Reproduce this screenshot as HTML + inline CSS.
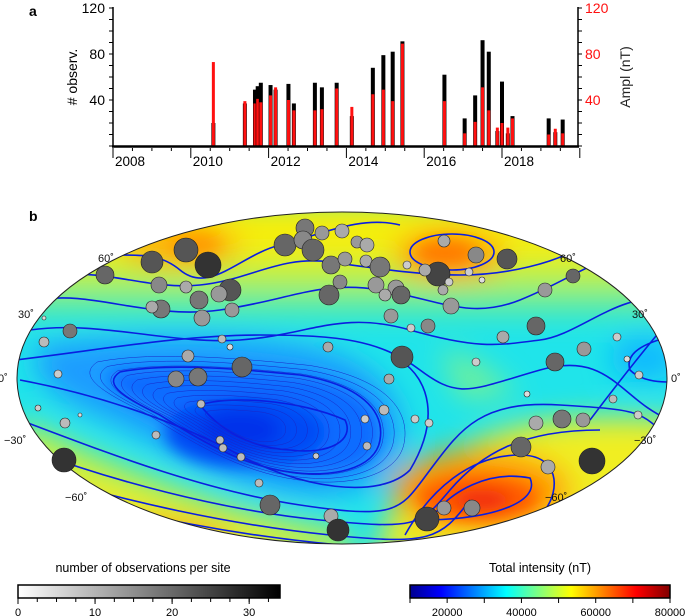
<!DOCTYPE html>
<html><head><meta charset="utf-8"><style>
body{margin:0;background:#fff;width:685px;height:616px;overflow:hidden;font-family:"Liberation Sans",sans-serif}
svg{position:absolute;left:0;top:0}
</style></head><body>
<svg width="685" height="616" viewBox="0 0 685 616">
<defs>
<filter id="bl" x="-50%" y="-50%" width="200%" height="200%"><feGaussianBlur stdDeviation="14"/></filter>
<filter id="bl2" x="-50%" y="-50%" width="200%" height="200%"><feGaussianBlur stdDeviation="8"/></filter>
<clipPath id="ell"><ellipse cx="342" cy="378" rx="325" ry="166"/></clipPath>
<linearGradient id="gcb" x1="0" x2="1"><stop offset="0" stop-color="#fff"/><stop offset="1" stop-color="#000"/></linearGradient>
<linearGradient id="jet" x1="0" x2="1"><stop offset="0" stop-color="#00008f"/><stop offset="0.12" stop-color="#0000ff"/><stop offset="0.37" stop-color="#00ffff"/><stop offset="0.62" stop-color="#ffff00"/><stop offset="0.87" stop-color="#ff0000"/><stop offset="1" stop-color="#800000"/></linearGradient>
</defs>
<text x="29" y="16" font-size="14" font-weight="bold">a</text>
<text x="29" y="221" font-size="14" font-weight="bold">b</text>
<g id="chart"></g>
<g>
<g clip-path="url(#ell)">
<rect x="0" y="200" width="685" height="360" fill="#20e4ea"/>
<g filter="url(#bl)">
<rect x="0" y="200" width="685" height="62" fill="#f4ee10"/>
<rect x="0" y="262" width="685" height="28" fill="#b8f040"/>
<rect x="0" y="290" width="685" height="25" fill="#60eca0"/>
<path d="M20,420 C120,470 250,520 340,530 L360,560 L0,560 Z" fill="#c8f040"/>
<path d="M20,460 C120,500 230,530 330,545 L0,560 Z" fill="#f6e820"/>
<path d="M380,540 C400,480 460,430 560,420 C620,415 660,420 685,420 L685,560 L380,560 Z" fill="#f0ee20"/>
<path d="M440,350 C470,350 500,380 520,395 L460,400 Z" fill="#70f09a"/>
<ellipse cx="180" cy="245" rx="60" ry="22" fill="#ffb000"/>
<ellipse cx="450" cy="255" rx="55" ry="25" fill="#ffa000"/>
<ellipse cx="480" cy="490" rx="90" ry="40" fill="#ff9800"/>
<ellipse cx="150" cy="540" rx="80" ry="18" fill="#ffa000"/>
<ellipse cx="645" cy="358" rx="35" ry="22" fill="#10b8ff"/>
<path d="M40,345 C120,335 210,330 300,345 C360,355 405,385 402,440 C400,485 340,500 290,492 C230,485 180,455 120,425 C70,405 20,380 40,345 Z" fill="#1d9cff"/>
</g>
<g filter="url(#bl2)">
<path d="M110,372 C170,362 250,370 300,375 C360,385 385,410 380,440 C375,470 330,478 290,472 C240,465 200,440 160,415 C130,400 100,385 110,372 Z" fill="#0a6cff"/>
<ellipse cx="245" cy="432" rx="80" ry="35" fill="#0048f4"/>
<ellipse cx="240" cy="430" rx="40" ry="20" fill="#0030ea"/>
<ellipse cx="478" cy="498" rx="60" ry="22" fill="#ff5a00"/>
<ellipse cx="482" cy="500" rx="28" ry="10" fill="#f02808"/>
<ellipse cx="445" cy="253" rx="30" ry="12" fill="#ff7a00"/>
<ellipse cx="195" cy="245" rx="25" ry="10" fill="#ff9800"/>
</g>
<g fill="none" stroke="#0a1ee0" stroke-width="1.6">
<path d="M90,250 C120,262 150,245 180,270 S240,255 280,245 S360,215 400,225"/>
<path d="M60,275 C110,270 150,290 200,285 S280,255 330,262 S420,275 460,275 S560,265 590,240"/>
<path d="M40,300 C90,290 150,320 220,310 S320,280 380,290 S470,320 520,300 S590,260 640,250"/>
<path d="M30,330 C100,320 170,345 240,340 S340,310 410,330 S500,345 540,340 S620,290 670,300"/>
<path d="M15,360 C100,350 180,335 260,335 S380,340 420,370 S470,390 540,370 S620,400 670,420"/>
<path d="M20,380 C100,395 170,420 230,450 C300,490 380,500 410,470 C440,420 430,380 400,360"/>
<path d="M20,420 C100,450 200,490 300,505 S400,510 430,470 S480,400 560,405 S640,410 670,440"/>
<path d="M30,450 C110,480 220,510 320,520 S420,525 450,490 S520,430 600,430"/>
<path d="M40,475 C120,500 230,525 330,535 S440,540 470,500"/>
<path d="M60,495 C140,515 230,535 340,545"/>
<ellipse cx="452" cy="252" rx="42" ry="18"/>
<path d="M430,520 C450,490 490,470 530,478 C540,500 500,518 430,520 Z"/>
<path d="M405,535 C430,490 470,455 520,455 C560,455 560,490 545,510"/>
<path d="M665,338 C640,345 625,355 630,370 C640,380 655,382 668,382"/>
<path d="M590,420 C620,380 660,330 670,320"/>
<path d="M120,372 C170,362 250,370 300,375 C360,385 385,410 380,440 C375,470 330,478 290,472 C240,465 200,440 160,415 C130,400 100,385 120,372 Z"/>
<path d="M200,405 C230,395 300,400 345,420 C355,440 330,455 290,450 C250,448 220,430 200,405 Z"/>
</g>
<g id="thin" fill="none" stroke="#1828c8" stroke-width="0.5"></g>
</g>
<ellipse cx="342" cy="378" rx="325" ry="166" fill="none" stroke="#222" stroke-width="1"/>
<g id="sites"></g>
<g font-size="11" fill="#111">
<text x="98" y="262">60˚</text><text x="18" y="318">30˚</text><text x="-2" y="382">0˚</text><text x="4" y="444">−30˚</text><text x="65" y="501">−60˚</text>
<text x="560" y="262">60˚</text><text x="632" y="318">30˚</text><text x="671" y="382">0˚</text><text x="634" y="444">−30˚</text><text x="545" y="501">−60˚</text>
</g>
</g>
<g>
<text x="143" y="572" font-size="12.5" text-anchor="middle">number of observations per site</text>
<rect x="18" y="585" width="262" height="13" fill="url(#gcb)" stroke="#000" stroke-width="1.5"/>
<g id="cb1"></g>
</g>
<g>
<text x="540" y="572" font-size="12.5" text-anchor="middle">Total intensity (nT)</text>
<rect x="410" y="585" width="260" height="13" fill="url(#jet)" stroke="#000" stroke-width="1.5"/>
<g id="cb2"></g>
</g>
</svg>
<script>
const years=[2010.58,2011.39,2011.65,2011.72,2011.8,2012.05,2012.18,2012.51,2012.65,2013.19,2013.37,2013.75,2014.14,2014.68,2014.95,2015.19,2015.44,2016.52,2017.04,2017.31,2017.5,2017.66,2017.88,2018.0,2018.15,2018.27,2019.2,2019.37,2019.56];
const obs=[20,37,49,52,55,53,49,54,37,55,51,55,26,68,79,82,91,62,24,44,92,82,13,56,11,26,24,12,23];
const ampl=[73,39,37,41,38,44,51,40,31,31,32,50,34,45,49,39,89,39,11,21,51,31,16,20,16,24,10,15,11];
const yTicks=[40,80,120];
const xTicks=[2008,2010,2012,2014,2016,2018];
const NS='http://www.w3.org/2000/svg';
function mk(t,a,p){const e=document.createElementNS(NS,t);for(const k in a)e.setAttribute(k,a[k]);p.appendChild(e);return e;}
const X=y=>113+(y-2008)*38.9, Y=v=>146-v*1.15;
const g=document.getElementById('chart');
for(let i=0;i<years.length;i++){
 const b=mk('rect',{x:X(years[i])-2,y:Y(obs[i]),width:4,height:146-Y(obs[i]),fill:'#000'},g);
 
 
 const r=mk('rect',{x:X(years[i])-1.5,y:Y(ampl[i]),width:3,height:146-Y(ampl[i]),fill:'#ff1010'},g);
 
 
}
mk('line',{x1:113,y1:7,x2:113,y2:147,stroke:'#000','stroke-width':1.5},g);
mk('line',{x1:578,y1:7,x2:578,y2:147,stroke:'#000','stroke-width':1.5},g);
mk('line',{x1:112,y1:146.5,x2:579,y2:146.5,stroke:'#000','stroke-width':2.5},g);
for(let v=0;v<=120;v+=10){mk('line',{x1:109,y1:Y(v),x2:113,y2:Y(v),stroke:'#000'},g);mk('line',{x1:578,y1:Y(v),x2:582,y2:Y(v),stroke:'#000'},g);}
yTicks.forEach(v=>{const t=mk('text',{x:105,y:Y(v)+5,'font-size':14,'text-anchor':'end'},g);t.textContent=v;
 const t2=mk('text',{x:585,y:Y(v)+5,'font-size':14,fill:'#ff1010'},g);t2.textContent=v;});
for(let y=2008;y<=2020;y+=0.5){mk('line',{x1:X(y),y1:148,x2:X(y),y2:y%2===0?158:151,stroke:'#000'},g);}
xTicks.forEach(y=>{const t=mk('text',{x:X(y)+2,y:166,'font-size':13.5},g);t.textContent=y;});
let t=mk('text',{transform:'translate(77,77) rotate(-90)','font-size':14,'text-anchor':'middle'},g);t.textContent='# observ.';

t=mk('text',{transform:'translate(630,77) rotate(-90)','font-size':14,'text-anchor':'middle',fill:'#222'},g);t.textContent='Ampl (nT)';

const th=document.getElementById('thin');
for(let k=0.3;k<1.25;k+=0.08){const p=mk('path',{d:'M120,372 C170,362 250,370 300,375 C360,385 385,410 380,440 C375,470 330,478 290,472 C240,465 200,440 160,415 C130,400 100,385 120,372 Z',transform:'translate(245,428) scale('+k+') translate(-245,-428)','vector-effect':'non-scaling-stroke'},th);}
const sites=[[208,265,13,'#333'],[186,250,12,'#555'],[152,262,11,'#555'],[105,275,9,'#666'],[159,285,8,'#888'],[186,287,6,'#aaa'],[199,300,9,'#777'],[230,290,11,'#555'],[219,294,8,'#999'],[161,309,9,'#777'],[152,307,6,'#aaa'],[202,318,8,'#999'],[232,310,7,'#999'],[285,245,11,'#666'],[305,228,9,'#777'],[303,240,9,'#888'],[313,250,11,'#666'],[322,233,7,'#999'],[342,231,7,'#aaa'],[331,265,9,'#777'],[345,259,7,'#999'],[357,242,6,'#999'],[367,245,7,'#aaa'],[366,261,6,'#aaa'],[380,267,10,'#777'],[329,295,10,'#666'],[340,282,7,'#888'],[376,285,8,'#999'],[396,288,8,'#999'],[401,295,9,'#666'],[385,295,6,'#aaa'],[391,316,7,'#999'],[428,326,7,'#888'],[411,328,4,'#ccc'],[438,274,12,'#444'],[425,270,6,'#aaa'],[444,241,6,'#aaa'],[476,255,8,'#888'],[469,272,4,'#ccc'],[507,259,10,'#555'],[449,282,4,'#ccc'],[443,290,5,'#aaa'],[451,306,8,'#999'],[482,280,3,'#ddd'],[545,290,7,'#999'],[536,326,9,'#666'],[503,337,6,'#aaa'],[573,276,7,'#666'],[584,349,7,'#999'],[555,362,9,'#666'],[402,357,11,'#555'],[328,347,5,'#aaa'],[242,367,10,'#666'],[198,377,9,'#777'],[176,379,8,'#888'],[188,356,6,'#aaa'],[70,331,7,'#777'],[44,342,5,'#bbb'],[58,374,4,'#ccc'],[201,404,4,'#bbb'],[220,440,4,'#bbb'],[223,448,4,'#bbb'],[241,457,4,'#bbb'],[259,483,4,'#bbb'],[156,435,4,'#bbb'],[65,423,5,'#bbb'],[270,505,10,'#666'],[331,516,7,'#aaa'],[338,530,11,'#333'],[389,379,5,'#aaa'],[384,410,5,'#bbb'],[415,419,4,'#ccc'],[429,423,4,'#ccc'],[367,446,4,'#bbb'],[316,456,3,'#ccc'],[521,447,10,'#666'],[548,467,7,'#aaa'],[536,423,7,'#aaa'],[562,419,9,'#777'],[583,420,7,'#999'],[592,461,13,'#333'],[64,460,12,'#333'],[427,519,12,'#444'],[444,508,7,'#999'],[472,508,8,'#888'],[639,375,4,'#ccc'],[613,399,4,'#bbb'],[638,415,4,'#ccc'],[617,337,4,'#ccc'],[627,359,3,'#ddd'],[44,318,2,'#ddd'],[38,408,3,'#ccc'],[80,415,2,'#ddd'],[365,419,4,'#ccc'],[476,362,4,'#ccc'],[527,394,3,'#ddd'],[222,339,4,'#bbb'],[230,347,3,'#ddd'],[407,265,4,'#ccc']];
const sg=document.getElementById('sites');
sites.forEach(s=>{const c=mk('circle',{cx:s[0],cy:s[1],r:s[2],fill:s[3],stroke:'#222','stroke-width':0.6},sg);
 
 });
const cb1Ticks=[0,10,20,30], cb2Ticks=[20000,40000,60000,80000];
const c1=document.getElementById('cb1'), c2=document.getElementById('cb2');
for(let v=0;v<=34;v+=2.5){const x=18+v/34*262;mk('line',{x1:x,y1:598,x2:x,y2:602,stroke:'#000'},c1);}
cb1Ticks.forEach(v=>{const x=18+v/34*262;mk('line',{x1:x,y1:598,x2:x,y2:604,stroke:'#000'},c1);const t=mk('text',{x:x,y:616,'font-size':11,'text-anchor':'middle'},c1);t.textContent=v;});
for(let v=10000;v<=80000;v+=10000){const x=410+(v-10000)/70000*260;mk('line',{x1:x,y1:598,x2:x,y2:603,stroke:'#000'},c2);}
cb2Ticks.forEach(v=>{const x=410+(v-10000)/70000*260;const t=mk('text',{x:x,y:616,'font-size':11,'text-anchor':'middle'},c2);t.textContent=v;});
</script>
</body></html>
